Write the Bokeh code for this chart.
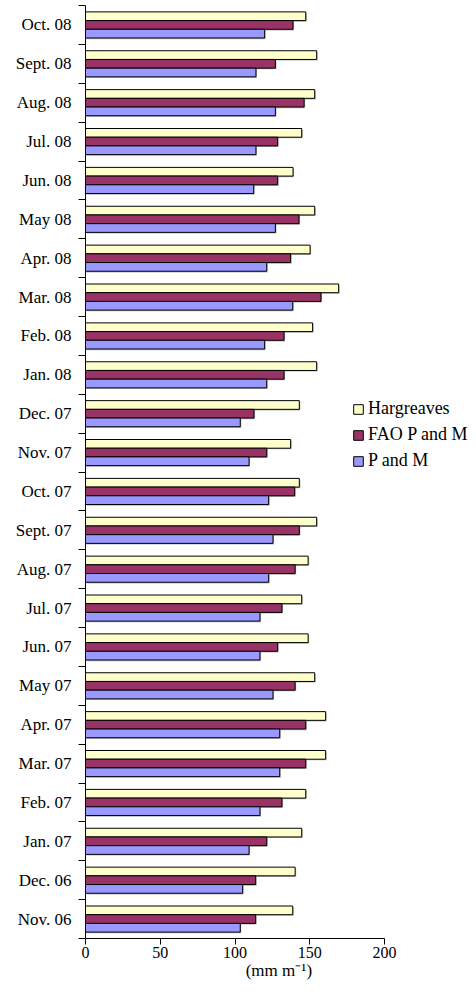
import numpy as np
from bokeh.plotting import figure
from bokeh.models import Range1d, FixedTicker, Legend, LegendItem
from bokeh.embed import file_html
from bokeh.resources import INLINE

# Categories, bottom to top
months = ["Nov. 06", "Dec. 06", "Jan. 07", "Feb. 07", "Mar. 07", "Apr. 07",
          "May 07", "Jun. 07", "Jul. 07", "Aug. 07", "Sept. 07", "Oct. 07",
          "Nov. 07", "Dec. 07", "Jan. 08", "Feb. 08", "Mar. 08", "Apr. 08",
          "May 08", "Jun. 08", "Jul. 08", "Aug. 08", "Sept. 08", "Oct. 08"]

hargreaves = [138.6, 140.2, 144.6, 147.3, 160.6, 160.6,
              153.3, 148.9, 144.6, 148.9, 154.6, 143.0,
              137.2, 143.0, 154.6, 151.9, 169.3, 150.2,
              153.3, 138.8, 144.6, 153.3, 154.6, 147.3]
fao_pm = [113.8, 113.8, 121.2, 131.4, 147.3, 147.3,
          140.2, 128.5, 131.4, 140.2, 143.0, 139.9,
          121.2, 112.7, 132.8, 132.8, 157.5, 137.2,
          142.8, 128.5, 128.5, 146.2, 127.0, 138.8]
p_and_m = [103.5, 105.1, 109.4, 116.7, 129.9, 129.9,
           125.4, 116.7, 116.7, 122.5, 125.4, 122.5,
           109.4, 103.5, 121.2, 119.8, 138.6, 121.2,
           127.0, 112.5, 114.0, 127.0, 114.0, 119.8]

series_names = ["Hargreaves", "FAO P and M", "P and M"]
x_ticks = [0, 50, 100, 150, 200]

colors = ["#FFFFCC", "#993366", "#9999FF"]
serif = "Liberation Serif"

centers = np.arange(len(months)) + 0.5
bounds = np.arange(len(months) + 1).astype(float)
bar_h = 0.224
offsets = [bar_h, 0.0, -bar_h]
data = [hargreaves, fao_pm, p_and_m]

p = figure(width=476, height=994, output_backend="svg", toolbar_location=None,
           x_range=Range1d(0, 261.5), y_range=Range1d(0, len(months)),
           min_border_left=85, min_border_right=0, min_border_top=5,
           min_border_bottom=56)
p.outline_line_color = None
p.xgrid.visible = False
p.ygrid.visible = False

# shadows
for vals, off in zip(data, offsets):
    p.hbar(y=centers + off - 0.03, left=0.7, right=np.array(vals) + 0.7,
           height=bar_h, fill_color="#999999", line_color=None, fill_alpha=0.7)

renderers = []
for vals, off, col in zip(data, offsets, colors):
    r = p.hbar(y=centers + off, left=0, right=vals, height=bar_h,
               fill_color=col, line_color="black", line_width=1)
    renderers.append(r)

legend = Legend(items=[LegendItem(label=n, renderers=[r]) for n, r in zip(series_names, renderers)],
                location=(267, 467))
legend.border_line_alpha = 0
legend.background_fill_alpha = 0
legend.padding = 0
legend.margin = 0
legend.spacing = 5
legend.glyph_width = 12
legend.glyph_height = 12
legend.label_height = 20
legend.label_standoff = 4
legend.label_text_font = serif
legend.label_text_font_size = "18px"
legend.label_text_color = "black"
p.add_layout(legend, "center")

yax = p.yaxis[0]
yax.ticker = FixedTicker(ticks=list(centers), minor_ticks=list(bounds))
yax.major_label_overrides = {float(c): m for c, m in zip(centers, months)}
yax.major_tick_out = 0
yax.major_tick_in = 0
yax.minor_tick_out = 7
yax.minor_tick_in = 0
yax.major_label_standoff = 7
yax.major_label_text_font = serif
yax.major_label_text_font_size = "17px"
yax.major_label_text_color = "black"
yax.axis_line_color = "black"
yax.minor_tick_line_color = "black"

xax = p.xaxis[0]
xax.bounds = (0, 200)
xax.ticker = FixedTicker(ticks=x_ticks, minor_ticks=[])
xax.major_tick_out = 6
xax.major_tick_in = 0
xax.major_label_standoff = 2
xax.major_label_text_font = serif
xax.major_label_text_font_size = "16px"
xax.major_label_text_color = "black"
xax.axis_label = "(mm  m\u207b\u00b9)"
xax.axis_label_text_font = serif
xax.axis_label_text_font_style = "normal"
xax.axis_label_text_font_size = "17px"
xax.axis_label_text_color = "black"
xax.axis_label_standoff = 0
xax.axis_line_color = "black"

open("out.html", "w").write(file_html(p, INLINE))
